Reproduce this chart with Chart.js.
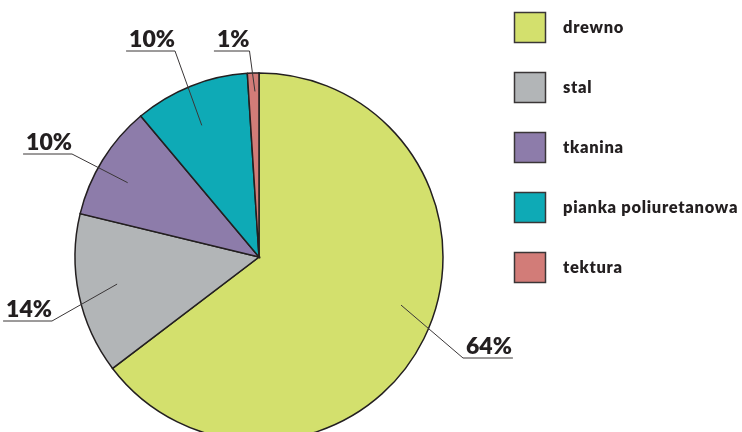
<!DOCTYPE html>
<html>
<head>
<meta charset="utf-8">
<script src="https://cdn.jsdelivr.net/npm/chart.js@4.4.1/dist/chart.umd.min.js"></script>
<style>
  html, body { margin: 0; padding: 0; background: #fff; overflow: hidden; }
  #wrap { width: 742px; height: 432px; }
</style>
</head>
<body>
<div id="wrap"><canvas id="pie" width="742" height="432"></canvas></div>
<script>
// materiały - udział procentowy
const categories = ['drewno', 'stal', 'tkanina', 'pianka poliuretanowa', 'tektura'];
const shares = [64, 14, 10, 10, 1];
const sliceColors = ['#d3e06d', '#b2b5b7', '#8d7caa', '#0eaab6', '#d27c78'];

// where each percentage label sits (angle from 12 o'clock, clockwise)
const labelLayout = [
  { angle: 108.7, frac: 0.815, x: 463, y: 358, side: 'left' },
  { angle: 259.2, frac: 0.785, x: 52, y: 321, side: 'right' },
  { angle: 299.5, frac: 0.82, x: 72, y: 154, side: 'right' },
  { angle: 336.5, frac: 0.78, x: 175, y: 51, side: 'right' },
  { angle: 358.6, frac: 0.9, x: 249.5, y: 51, side: 'right' }
];

const ink = '#231f20';

const calloutPlugin = {
  id: 'callouts',
  afterDatasetsDraw(chart) {
    const ctx = chart.ctx;
    const arcs = chart.getDatasetMeta(0).data;
    ctx.save();
    ctx.font = '800 23px Lato, "DejaVu Sans", sans-serif';
    ctx.textBaseline = 'alphabetic';
    arcs.forEach((arc, i) => {
      const lay = labelLayout[i];
      const a = (lay.angle - 90) * Math.PI / 180;
      const px = arc.x + Math.cos(a) * arc.outerRadius * lay.frac;
      const py = arc.y + Math.sin(a) * arc.outerRadius * lay.frac;
      const txt = shares[i] + '%';
      const w = ctx.measureText(txt).width;
      const lineEnd = lay.side === 'left' ? lay.x + w + 4 : lay.x - w - 3;

      ctx.strokeStyle = '#3a3637';
      ctx.lineWidth = 1;
      ctx.beginPath();
      ctx.moveTo(px, py);
      ctx.lineTo(lay.x, lay.y);
      ctx.lineTo(lineEnd, lay.y);
      ctx.stroke();

      ctx.fillStyle = ink;
      if (lay.side === 'left') {
        ctx.textAlign = 'left';
        ctx.fillText(txt, lay.x + 3, lay.y - 4);
      } else {
        ctx.textAlign = 'right';
        ctx.fillText(txt, lay.x, lay.y - 4);
      }
    });

    // legenda
    ctx.font = '800 16.5px Lato, "DejaVu Sans", sans-serif';
    ctx.letterSpacing = '0.7px';
    ctx.textAlign = 'left';
    ctx.textBaseline = 'middle';
    categories.forEach((name, i) => {
      const top = 12.5 + i * 60;
      ctx.fillStyle = sliceColors[i];
      ctx.fillRect(514.5, top, 31, 30);
      ctx.strokeStyle = '#3a3637';
      ctx.lineWidth = 1.5;
      ctx.strokeRect(514.5, top, 31, 30);
      ctx.fillStyle = ink;
      ctx.fillText(name, 563, top + 15);
    });
    ctx.restore();
  }
};

new Chart(document.getElementById('pie'), {
  type: 'pie',
  data: {
    labels: categories,
    datasets: [{
      data: shares,
      backgroundColor: sliceColors,
      borderColor: ink,
      borderWidth: 1.5,
      borderJoinStyle: 'miter'
    }]
  },
  options: {
    responsive: false,
    animation: false,
    radius: 184,
    layout: { padding: { left: 75, top: 82, right: 299, bottom: 0 } },
    plugins: {
      legend: { display: false },
      tooltip: { enabled: false }
    }
  },
  plugins: [calloutPlugin]
});
</script>
</body>
</html>
